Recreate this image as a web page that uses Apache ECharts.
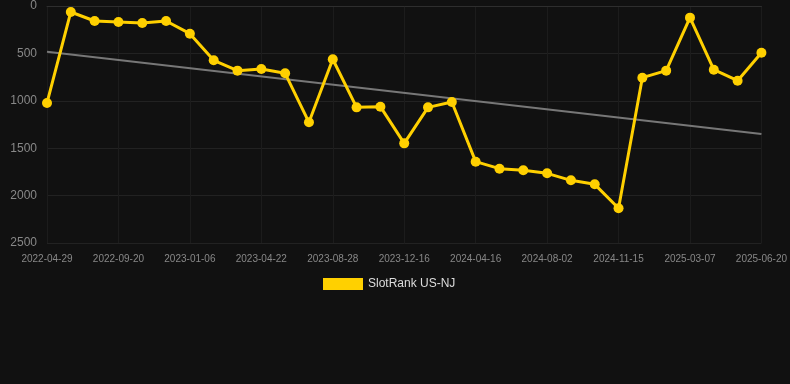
<!DOCTYPE html>
<html>
<head>
<meta charset="utf-8">
<script src="https://cdn.jsdelivr.net/npm/echarts@6/dist/echarts.min.js"></script>
<style>
html,body{margin:0;padding:0;background:#111111;}
#chart{width:790px;height:384px;}
</style>
</head>
<body>
<div id="chart"></div>
<script>
var dates = ["2022-04-29","2022-06-14","2022-08-03","2022-09-20","2022-10-28","2022-12-02","2023-01-06","2023-02-12","2023-03-18","2023-04-22","2023-06-01","2023-07-15","2023-08-28","2023-10-04","2023-11-09","2023-12-16","2024-01-30","2024-03-04","2024-04-16","2024-05-21","2024-06-27","2024-08-02","2024-09-06","2024-10-10","2024-11-15","2024-12-27","2025-01-31","2025-03-07","2025-04-11","2025-05-16","2025-06-20"];
var ranks = [1023,63,158,169,179,158,292,573,682,665,710,1227,562,1069,1062,1449,1069,1013,1642,1716,1733,1765,1839,1881,2134,756,682,123,672,788,493];
var trendEnds = [482,1350];
var yTicks = {min:0,max:2500,interval:500};
var seriesName = "SlotRank US-NJ";

var font = "'Liberation Sans', Arial, sans-serif";
var chart = echarts.init(document.getElementById('chart'));
chart.setOption({
  backgroundColor: '#111111',
  animation: false,
  textStyle: {fontFamily: font},
  grid: {left: 47, right: 28, top: 6, bottom: 141},
  legend: {
    data: [seriesName],
    top: 273,
    left: 318,
    icon: 'rect',
    itemWidth: 40,
    itemHeight: 12,
    itemGap: 10,
    textStyle: {color: '#dddddd', fontSize: 12, fontFamily: font}
  },
  xAxis: {
    type: 'category',
    data: dates,
    boundaryGap: false,
    axisLine: {show: true, lineStyle: {color: '#2e2e2e'}},
    axisTick: {show: false},
    axisLabel: {interval: 2, color: '#888888', fontSize: 10, margin: 11, fontFamily: font},
    splitLine: {show: true, interval: 2, lineStyle: {color: '#1c1c1c'}}
  },
  yAxis: {
    type: 'value',
    inverse: true,
    min: yTicks.min,
    max: yTicks.max,
    interval: yTicks.interval,
    axisLine: {show: false},
    axisTick: {show: false},
    axisLabel: {color: '#888888', fontSize: 12, margin: 10, fontFamily: font, formatter: function (v) { return String(v); }},
    splitLine: {show: true, lineStyle: {color: '#222222'}}
  },
  series: [
    {
      name: seriesName,
      type: 'line',
      data: ranks,
      symbol: 'circle',
      symbolSize: 10,
      showAllSymbol: true,
      lineStyle: {color: '#ffd000', width: 3},
      itemStyle: {color: '#ffd000'},
      z: 3
    },
    {
      name: 'trend',
      type: 'line',
      data: [[dates[0], trendEnds[0]], [dates[dates.length-1], trendEnds[1]]],
      symbol: 'none',
      lineStyle: {color: '#777777', width: 2},
      itemStyle: {color: '#777777'},
      z: 2,
      silent: true
    }
  ]
});
</script>
</body>
</html>
